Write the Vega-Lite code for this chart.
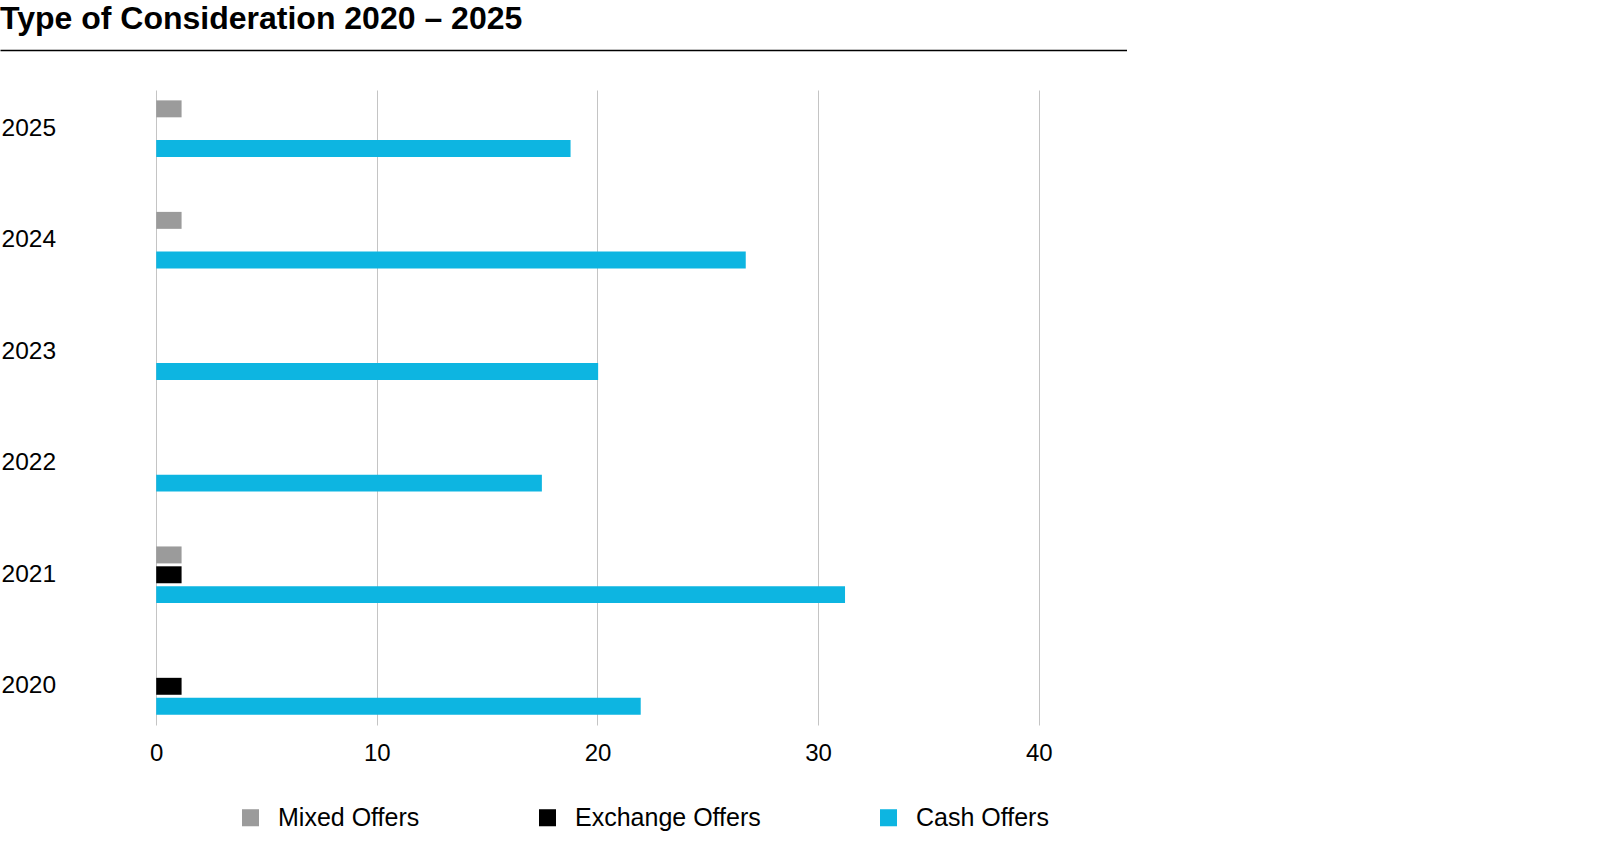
{
  "$schema": "https://vega.github.io/schema/vega-lite/v6.json",
  "width": 1127,
  "height": 635,
  "padding": {"top": 3, "left": 0, "right": 0, "bottom": 0},
  "background": "white",
  "title": {
    "text": "Type of Consideration 2020 – 2025",
    "anchor": "start",
    "frame": "group",
    "font": "Liberation Sans Narrow, Liberation Sans, sans-serif",
    "fontSize": 32,
    "fontWeight": "bold",
    "color": "black",
    "baseline": "alphabetic",
    "offset": -11
  },
  "data": {
    "values": [
      {"year": "2025", "type": "Mixed Offers", "value": 1.15},
      {"year": "2025", "type": "Cash Offers", "value": 18.78},
      {"year": "2024", "type": "Mixed Offers", "value": 1.15},
      {"year": "2024", "type": "Cash Offers", "value": 26.72},
      {"year": "2023", "type": "Cash Offers", "value": 20.03},
      {"year": "2022", "type": "Cash Offers", "value": 17.48},
      {"year": "2021", "type": "Mixed Offers", "value": 1.15},
      {"year": "2021", "type": "Exchange Offers", "value": 1.15},
      {"year": "2021", "type": "Cash Offers", "value": 31.22},
      {"year": "2020", "type": "Exchange Offers", "value": 1.15},
      {"year": "2020", "type": "Cash Offers", "value": 21.96}
    ]
  },
  "config": {
    "view": {"stroke": null},
    "font": "Liberation Sans"
  },
  "layer": [
    {
      "mark": {"type": "bar"},
      "encoding": {
        "y": {
          "field": "year",
          "type": "nominal",
          "sort": "descending",
          "scale": {"paddingInner": 0.466, "paddingOuter": 0.08},
          "axis": {
            "title": null,
            "domain": false,
            "ticks": false,
            "tickSize": 0,
            "labelAlign": "left",
            "labelPadding": -1,
            "labelFont": "Liberation Sans",
            "labelFontSize": 24.5,
            "labelColor": "black"
          }
        },
        "yOffset": {
          "field": "type",
          "type": "nominal",
          "sort": ["Mixed Offers", "Exchange Offers", "Cash Offers"],
          "scale": {"paddingInner": 0.146, "paddingOuter": 0.073}
        },
        "x": {
          "field": "value",
          "type": "quantitative",
          "scale": {"domain": [-7.08, 44], "nice": false},
          "axis": {
            "orient": "bottom",
            "values": [0, 10, 20, 30, 40],
            "format": "d",
            "title": null,
            "domain": false,
            "ticks": false,
            "grid": true,
            "gridColor": "#c4c4c4",
            "gridWidth": 1,
            "labelPadding": 16,
            "labelFont": "Liberation Sans",
            "labelFontSize": 24,
            "labelColor": "black"
          }
        },
        "color": {
          "field": "type",
          "type": "nominal",
          "scale": {
            "domain": ["Mixed Offers", "Exchange Offers", "Cash Offers"],
            "range": ["#9b9b9b", "#000000", "#0db5e1"]
          },
          "legend": {
            "title": null,
            "orient": "none",
            "legendX": 238,
            "legendY": 715,
            "direction": "horizontal",
            "symbolType": "square",
            "symbolSize": 290,
            "symbolStrokeWidth": 0,
            "symbolOpacity": 1,
            "labelFont": "Liberation Sans",
            "labelFontSize": 25,
            "labelColor": "black",
            "labelOffset": 15,
            "labelLimit": 400,
            "columnPadding": 115,
            "padding": 0
          }
        }
      }
    },
    {
      "mark": {"type": "rule", "strokeOpacity": 0},
      "encoding": {
        "x": {
          "datum": 0,
          "type": "quantitative",
          "axis": {
            "orient": "top",
            "offset": 40,
            "title": null,
            "labels": false,
            "ticks": false,
            "grid": false,
            "domain": true,
            "domainColor": "black",
            "domainWidth": 1.5
          }
        }
      }
    }
  ],
  "resolve": {"axis": {"x": "independent"}}
}
